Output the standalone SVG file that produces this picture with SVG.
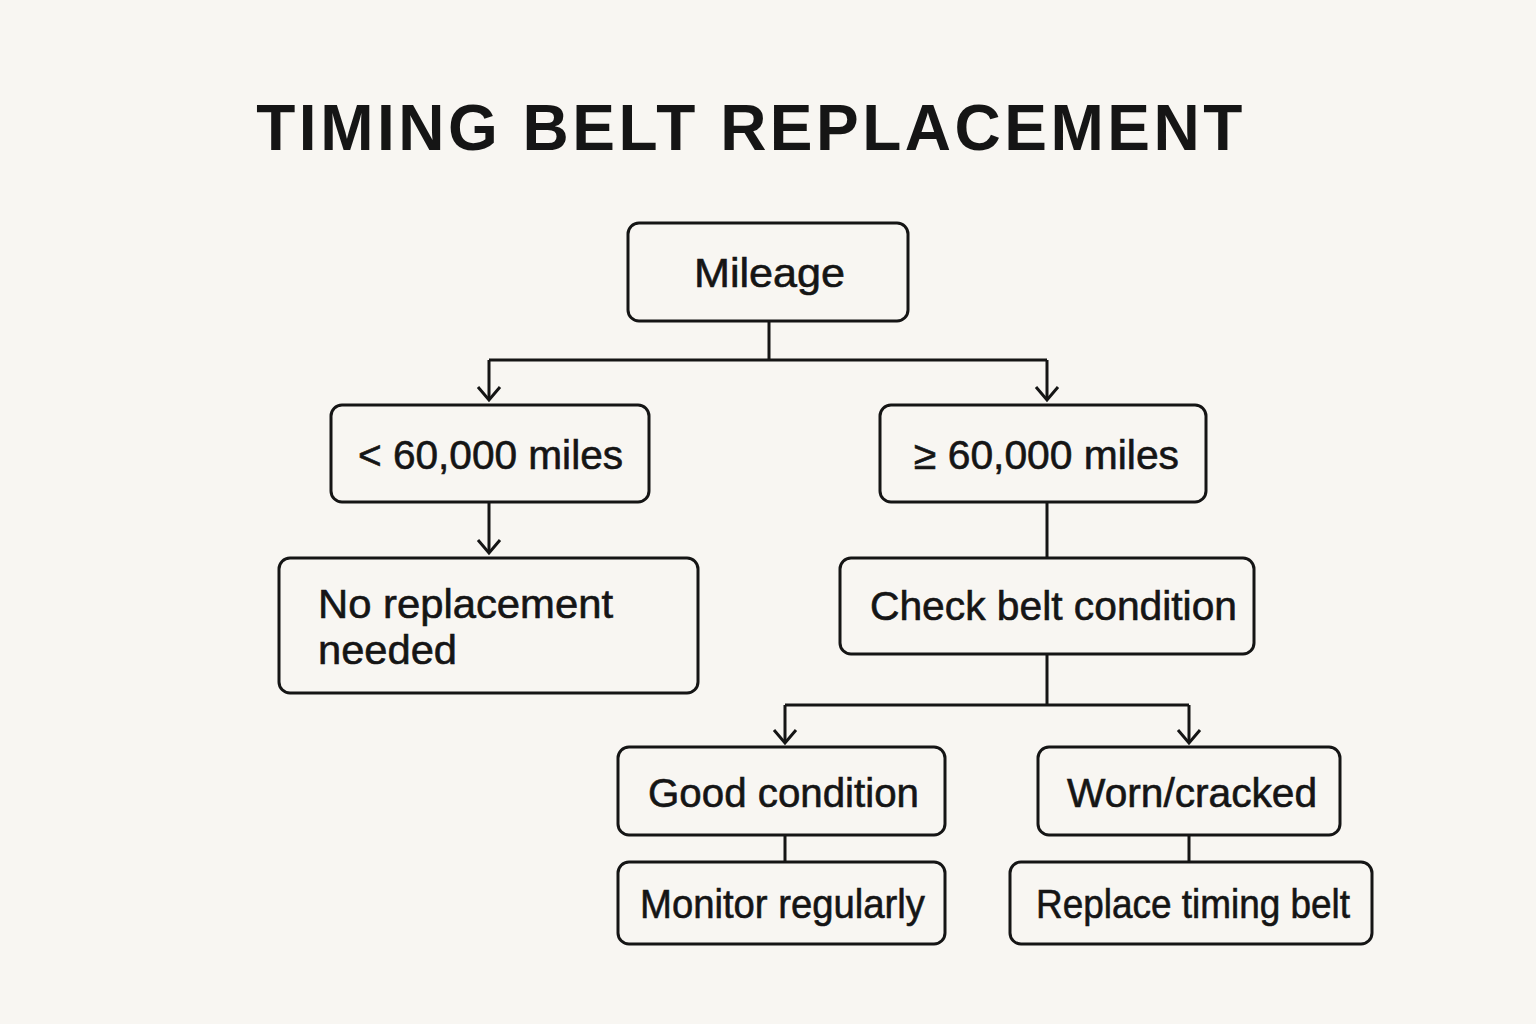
<svg xmlns="http://www.w3.org/2000/svg" width="1536" height="1024" viewBox="0 0 1536 1024">
<style>
.bg{fill:#f8f6f2}
.node rect{fill:#f8f6f2;stroke:#151515;stroke-width:3}
.node text{font-family:"Liberation Sans","DejaVu Sans",sans-serif;font-size:40px;fill:#151515;stroke:#151515;stroke-width:0.6}
.title{font-family:"Liberation Sans","DejaVu Sans",sans-serif;font-size:64px;font-weight:bold;fill:#151515;letter-spacing:3.5px}
.conn path{fill:none;stroke:#151515;stroke-width:3}
</style>
<defs>
<marker id="arr" markerWidth="26" markerHeight="24" viewBox="0 0 26 24" refX="13" refY="19" orient="0" markerUnits="userSpaceOnUse">
<path d="M2,6 L13,19 L24,6" fill="none" stroke="#151515" stroke-width="3"/>
</marker>
</defs>
<rect class="bg" width="1536" height="1024"/>
<text class="title" x="751" y="150" text-anchor="middle">TIMING BELT REPLACEMENT</text>
<g class="conn">
<path d="M769,321 V360 M489,360 H1047"/>
<path d="M489,360 V400" marker-end="url(#arr)"/>
<path d="M1047,360 V400" marker-end="url(#arr)"/>
<path d="M489,502 V553" marker-end="url(#arr)"/>
<path d="M1047,502 V558"/>
<path d="M1047,654 V705 M785,705 H1189"/>
<path d="M785,705 V743" marker-end="url(#arr)"/>
<path d="M1189,705 V743" marker-end="url(#arr)"/>
<path d="M785,835 V862"/>
<path d="M1189,835 V862"/>
</g>
<g id="mileage" class="node"><rect x="628" y="223" width="280" height="98" rx="11"/><text x="694" y="287" textLength="151" lengthAdjust="spacingAndGlyphs">Mileage</text></g>
<g id="lt60k" class="node"><rect x="331" y="405" width="318" height="97" rx="11"/><text x="358" y="469" textLength="265" lengthAdjust="spacingAndGlyphs">&lt; 60,000 miles</text></g>
<g id="ge60k" class="node"><rect x="880" y="405" width="326" height="97" rx="11"/><text x="914" y="469" textLength="265" lengthAdjust="spacingAndGlyphs">≥ 60,000 miles</text></g>
<g id="noreplace" class="node"><rect x="279" y="558" width="419" height="135" rx="11"/><text x="318" y="618" textLength="295" lengthAdjust="spacingAndGlyphs">No replacement</text><text x="318" y="664" textLength="139" lengthAdjust="spacingAndGlyphs">needed</text></g>
<g id="check" class="node"><rect x="840" y="558" width="414" height="96" rx="11"/><text x="870" y="620" textLength="367" lengthAdjust="spacingAndGlyphs">Check belt condition</text></g>
<g id="good" class="node"><rect x="618" y="747" width="327" height="88" rx="11"/><text x="648" y="807" textLength="271" lengthAdjust="spacingAndGlyphs">Good condition</text></g>
<g id="worn" class="node"><rect x="1038" y="747" width="302" height="88" rx="11"/><text x="1067" y="807" textLength="250" lengthAdjust="spacingAndGlyphs">Worn/cracked</text></g>
<g id="monitor" class="node"><rect x="618" y="862" width="327" height="82" rx="11"/><text x="640" y="918" textLength="285" lengthAdjust="spacingAndGlyphs">Monitor regularly</text></g>
<g id="replace" class="node"><rect x="1010" y="862" width="362" height="82" rx="11"/><text x="1036" y="918" textLength="314" lengthAdjust="spacingAndGlyphs">Replace timing belt</text></g>
</svg>
